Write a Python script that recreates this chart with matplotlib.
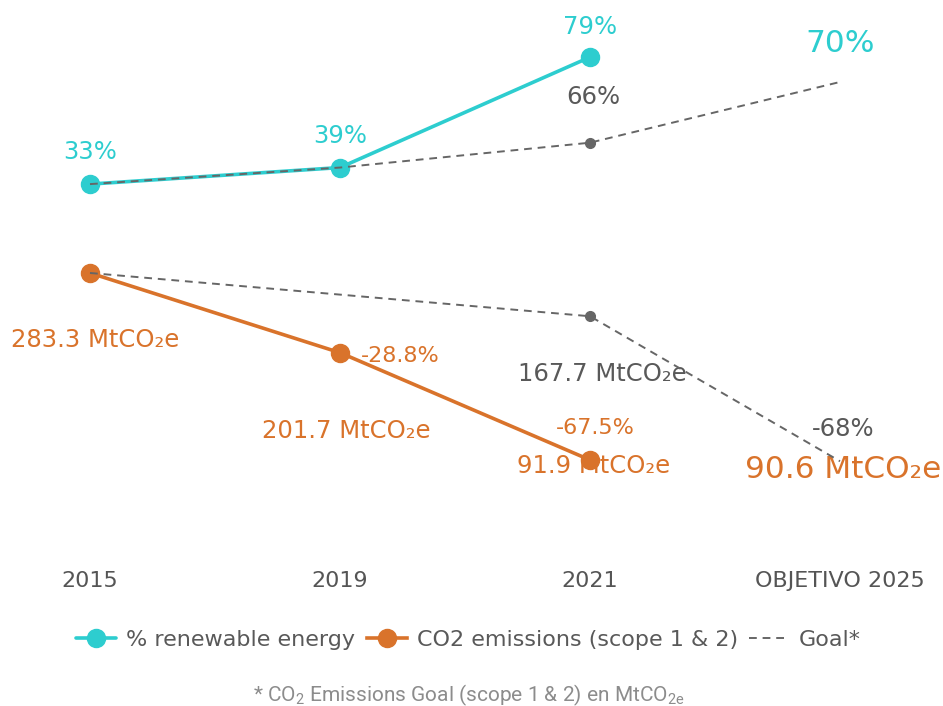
import matplotlib.pyplot as plt
import numpy as np

plt.rcParams["font.family"] = ["DejaVu Sans"]

# categories
years = ["2015", "2019", "2021", "OBJETIVO 2025"]

# % renewable energy (2015, 2019, 2021)
renew_x = [0, 1, 2]
renew_pct = [33, 39, 79]

# CO2 emissions scope 1 & 2, MtCO2e (2015, 2019, 2021)
co2_x = [0, 1, 2]
co2_mt = [283.3, 201.7, 91.9]

# goal paths as drawn (dashed)
goal_renew_x = [0, 1, 2, 3]
goal_renew = [33, 39, 48, 70]
goal_co2_x = [0, 2, 3]
goal_co2 = [283.3, 239, 90.6]

# printed labels
renew_labels = ["33%", "39%", "79%"]
co2_labels = ["283.3 MtCO₂e", "201.7 MtCO₂e", "91.9 MtCO₂e"]
co2_change = ["-28.8%", "-67.5%"]
goal_renew_labels = ["66%", "70%"]
goal_co2_labels = ["167.7 MtCO₂e", "90.6 MtCO₂e"]
goal_co2_change = "-68%"

teal = "#2dcdcf"
orange = "#d9732b"
grey = "#666666"
txt_grey = "#595959"

fig = plt.figure(figsize=(9.43, 7.06), dpi=100)
ax = fig.add_axes([0, 1 - 565 / 706, 1, 565 / 706])
ax2 = ax.twinx()

ax.set_xlim(-90 / 250, 853 / 250)
ax.set_ylim(-105.0, 99.7)
ax2.set_ylim(-15.6, 562.7)

for a in (ax, ax2):
    for s in a.spines.values():
        s.set_visible(False)
    a.set_yticks([])
ax.set_xticks(range(len(years)))
ax.set_xticklabels(years, fontsize=16, color="#555555")
ax.tick_params(axis="x", length=0, pad=4)

# main series
l1, = ax.plot(renew_x, renew_pct, color=teal, lw=2.6, marker="o", ms=13,
              solid_capstyle="round", label="% renewable energy", zorder=3)
l2, = ax2.plot(co2_x, co2_mt, color=orange, lw=2.6, marker="o", ms=13,
               label="CO2 emissions (scope 1 & 2)", zorder=3)

# goal lines
l3, = ax.plot(goal_renew_x, goal_renew, color=grey, lw=1.4, ls=(0, (4, 3)),
              label="Goal*", zorder=4)
ax.plot(goal_renew_x[2], goal_renew[2], "o", color=grey, ms=7, zorder=4)
ax2.plot(goal_co2_x, goal_co2, color=grey, lw=1.4, ls=(0, (4, 3)), zorder=4)
ax2.plot(goal_co2_x[1], goal_co2[1], "o", color=grey, ms=7, zorder=4)


def lab(a, x, y, s, dx, dy, color, size=17.5):
    a.annotate(s, (x, y), xytext=(dx, dy), textcoords="offset pixels",
               ha="center", va="center", color=color, fontsize=size)


# renewable labels
lab(ax, renew_x[0], renew_pct[0], renew_labels[0], 0, 32, teal)
lab(ax, renew_x[1], renew_pct[1], renew_labels[1], 0, 32, teal)
lab(ax, renew_x[2], renew_pct[2], renew_labels[2], 0, 30, teal)
lab(ax, goal_renew_x[2], goal_renew[2], goal_renew_labels[0], 3, 46, txt_grey)
lab(ax, goal_renew_x[3], goal_renew[3], goal_renew_labels[1], 0, 38, teal, 22.5)

# co2 labels
lab(ax2, co2_x[0], co2_mt[0], co2_labels[0], 5, -67, orange)
lab(ax2, co2_x[1], co2_mt[1], co2_change[0], 60, -3, orange, 16)
lab(ax2, co2_x[1], co2_mt[1], co2_labels[1], 6, -78, orange)
lab(ax2, co2_x[2], co2_mt[2], co2_change[1], 5, 32, orange, 16)
lab(ax2, co2_x[2], co2_mt[2], co2_labels[2], 4, -6, orange)
lab(ax2, goal_co2_x[1], goal_co2[1], goal_co2_labels[0], 12, -58, txt_grey)
lab(ax2, goal_co2_x[2], goal_co2[2], goal_co2_change, 3, 32, txt_grey)
lab(ax2, goal_co2_x[2], goal_co2[2], goal_co2_labels[1], 3, -8, orange, 22.4)

leg = fig.legend(handles=[l1, l2, l3], loc="center", bbox_to_anchor=(0.497, 1 - 640 / 706),
                 ncol=3, frameon=False, fontsize=16, handlelength=1.8,
                 handletextpad=0.45, columnspacing=0.5, markerscale=1.0)
for t in leg.get_texts():
    t.set_color(txt_grey)

fig.text(0.497, 1 - 695 / 706, r"* CO$_\mathregular{2}$ Emissions Goal (scope 1 & 2) en MtCO$_\mathregular{2e}$",
         ha="center", va="center", fontsize=15, color="#8c8c8c",
         family=["Roboto"])

fig.savefig("out.png", dpi=100)
